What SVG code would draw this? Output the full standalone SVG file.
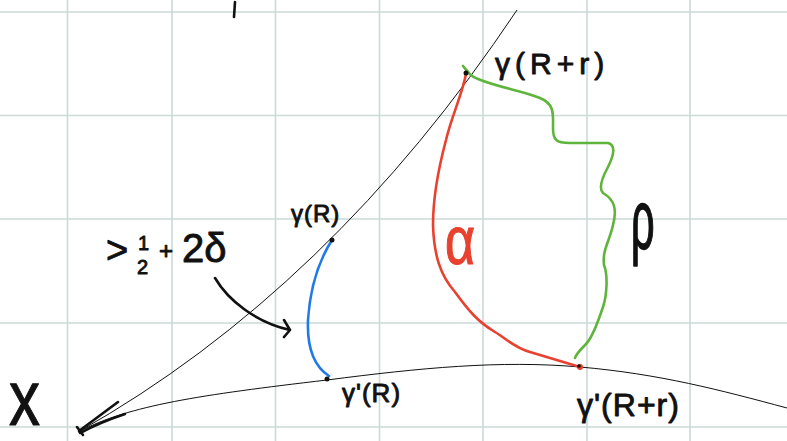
<svg xmlns="http://www.w3.org/2000/svg" width="787" height="441" viewBox="0 0 787 441">
<style>
.grid{stroke:#cbd9d7;stroke-width:1.6;fill:none}
.thin{stroke:#111;stroke-width:1;fill:none}
.pen{stroke:#111;stroke-width:2.6;fill:none;stroke-linecap:round;stroke-linejoin:round}
.col{stroke-width:2.6;fill:none;stroke-linecap:round;stroke-linejoin:round}
.t{font-family:"Liberation Sans","DejaVu Sans",sans-serif;fill:#111;stroke:#111;stroke-width:0.9;stroke-linejoin:round}
.r{fill:#e8412f;stroke:#e8412f}
</style>
<rect width="787" height="441" fill="#fff"/>
<g id="grid" class="grid">
<line x1="67.5" y1="0" x2="67.5" y2="441"/><line x1="172" y1="0" x2="172" y2="441"/><line x1="275.5" y1="0" x2="275.5" y2="441"/><line x1="379.5" y1="0" x2="379.5" y2="441"/><line x1="483" y1="0" x2="483" y2="441"/><line x1="587" y1="0" x2="587" y2="441"/><line x1="690" y1="0" x2="690" y2="441"/>
<line x1="0" y1="12" x2="787" y2="12"/><line x1="0" y1="115.5" x2="787" y2="115.5"/><line x1="0" y1="219" x2="787" y2="219"/><line x1="0" y1="323" x2="787" y2="323"/><line x1="0" y1="427" x2="787" y2="427"/>
</g>
<g id="connectors">
<path id="gamma" class="thin" d="M78,432 Q330,290 517,10"/>
<path id="gamma-prime" class="thin" d="M78,432 C130,405 200,395 327,380 C420,368 500,360 580,367 C660,374 720,390 787,408"/>
<path class="pen" d="M79,431 L118,402 M80,433 C95,425 110,419 125,414 M77,427 L83,435"/>
<path id="blue" class="col" stroke="#1f7ae8" d="M332,240 C318,262 310,290 308,320 C307,345 312,365 329,376"/>
<path id="alpha-path" class="col" stroke="#e8412f" d="M466,74 C462,95 452,115 446,140 C438,170 433,200 433,225 C434,255 440,275 455,292 C468,310 478,322 495,332 C508,340 515,348 530,352 L580,367"/>
<path id="rho-path" class="col" stroke="#5fb53c" d="M463,66 C468,72 470,76 478,79 C500,88 520,90 540,98 C555,104 553,115 553,128 C553,140 556,143 570,143 L608,143 C616,145 614,155 608,167 C602,178 598,188 603,193 C615,200 617,210 613,225 C610,240 602,250 604,265 C608,275 607,295 603,307 C598,322 592,338 586,344 C580,350 576,354 575,358"/>
<path id="arrow" class="pen" d="M215,278 C228,300 255,322 290,330 M284,320 L290,330 L284,337"/>
<path class="pen" d="M235,2 L234,17"/>
</g>
<g id="points" fill="#111">
<circle cx="332" cy="240" r="2.5"/>
<circle cx="466" cy="73" r="2.5"/>
<circle cx="327" cy="379" r="2.5"/>
<circle cx="580" cy="367" r="3" fill="#e8412f"/>
<circle cx="579" cy="366" r="1.8"/>
</g>
<g id="labels">
<text class="t" x="495" y="74" font-size="30" letter-spacing="5">γ(R+r)</text>
<text class="t" x="291" y="222" font-size="24" letter-spacing="1">γ(R)</text>
<text class="t" x="342" y="402" font-size="26" letter-spacing="1">γ'(R)</text>
<text class="t" x="577" y="416" font-size="32" letter-spacing="1">γ'(R+r)</text>
<text class="t" x="0" y="0" font-size="62" transform="translate(9,425) scale(1,1.25)">x</text>
<g id="bound">
<text class="t" x="106" y="263" font-size="38">&gt;</text>
<text class="t" x="138" y="250" font-size="20">1</text>
<text class="t" x="137" y="274" font-size="20">2</text>
<text class="t" x="159" y="259" font-size="24">+</text>
<text class="t" x="182" y="262" font-size="40">2δ</text>
</g>
<text class="t r" x="0" y="0" font-size="52" transform="translate(445,264) scale(1,1.3)">α</text>
<text class="t" x="0" y="0" font-size="46" transform="translate(631,249) scale(0.9,1.8)">ρ</text>
</g>
</svg>
